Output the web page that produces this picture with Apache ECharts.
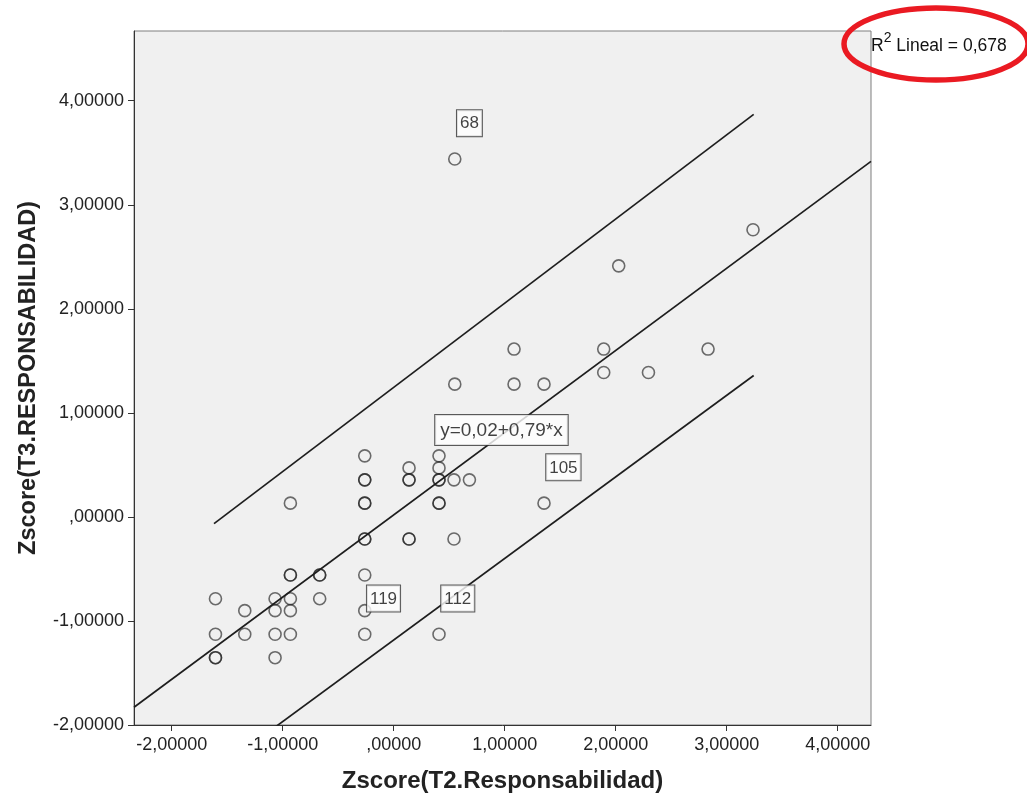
<!DOCTYPE html>
<html>
<head>
<meta charset="utf-8">
<script src="https://cdn.jsdelivr.net/npm/echarts@6/dist/echarts.min.js"></script>
<style>
  html, body { margin: 0; padding: 0; background: #ffffff; }
  #chart { width: 1027px; height: 800px; }
</style>
</head>
<body>
<div id="chart"></div>
<script>
// ---- data ----
const xVals = [
  -0.931, -0.931, -0.667, -0.667,
  -1.606, -1.069, -0.931, -0.667,
  -1.342, -1.069, -0.931,
  -1.606, -1.342, -1.069, -0.931,
  -1.606, -1.606, -1.069,
  -0.931,
  -0.261, 0.138, 0.408, 0.408,
  -0.261, -0.261, 0.138, 0.138, 0.408, 0.408, 0.543, 0.682,
  -0.261, -0.261, 0.408, 0.408,
  -0.261, -0.261, 0.138, 0.138, 0.543,
  -0.261, -0.261, -0.261, 0.408,
  1.084, 1.892, 1.892, 2.295, 1.084, 1.354, 0.550, 1.354, 0.550, 3.237, 2.027, 2.832
];
const yVals = [
  -0.558, -0.558, -0.558, -0.558,
  -0.786, -0.786, -0.786, -0.786,
  -0.901, -0.901, -0.901,
  -1.128, -1.128, -1.128, -1.128,
  -1.353, -1.353, -1.353,
  0.132,
  0.587, 0.471, 0.587, 0.471,
  0.356, 0.356, 0.356, 0.356, 0.356, 0.356, 0.356, 0.356,
  0.132, 0.132, 0.132, 0.132,
  -0.212, -0.212, -0.212, -0.212, -0.212,
  -0.558, -0.901, -1.128, -1.128,
  1.613, 1.613, 1.388, 1.388, 1.276, 1.276, 1.276, 0.132, 3.440, 2.760, 2.413, 1.613
];
// case labels: index into the point arrays -> text
const labelIdx  = [52, 51, 42, 43];
const labelText = ['68', '105', '119', '112'];

// fitted line and individual prediction bounds (endpoints)
const fitLine   = [[-2.34, -1.829], [4.30, 3.417]];
const upperLine = [[-1.619, -0.064], [3.243, 3.868]];
const lowerLine = [[-1.619, -2.452], [3.243, 1.359]];

const equationText = 'y=0,02+0,79*x';
const equationAt   = [0.378, 0.975];
const r2Value = '0,678';

const tickValues = [-2, -1, 0, 1, 2, 3, 4];
const tickLabels = ['-2,00000', '-1,00000', ',00000', '1,00000', '2,00000', '3,00000', '4,00000'];

const xTitle = 'Zscore(T2.Responsabilidad)';
const yTitle = 'Zscore(T3.RESPONSABILIDAD)';

// ---- build ----
const FONT = "'Liberation Sans', Arial, sans-serif";
const fmt = v => {
  const i = tickValues.findIndex(t => Math.abs(t - v) < 1e-9);
  return i >= 0 ? tickLabels[i] : '';
};

const points = xVals.map((x, i) => {
  const p = { value: [x, yVals[i]] };
  const k = labelIdx.indexOf(i);
  if (k >= 0) {
    p.label = {
      show: true,
      formatter: labelText[k],
      position: [9, -42],
      fontFamily: FONT,
      fontSize: 17,
      color: '#111',
      backgroundColor: '#ffffff',
      borderColor: '#333',
      borderWidth: 1,
      padding: [5, 3, 4, 3]
    };
  }
  return p;
});

const lineStyle = { color: '#1e1e1e', width: 1.7 };

const axisCommon = {
  type: 'value',
  axisLine: { show: true, onZero: false, lineStyle: { color: '#333', width: 1 } },
  axisTick: { show: true, length: 6, inside: false, customValues: tickValues, lineStyle: { color: '#333' } },
  axisLabel: { customValues: tickValues, formatter: fmt, fontFamily: FONT, fontSize: 18, color: '#222', margin: 11 },
  splitLine: { show: false },
  nameLocation: 'middle',
  nameTextStyle: { fontFamily: FONT, fontSize: 24, fontWeight: 'bold', color: '#222' }
};

const chart = echarts.init(document.getElementById('chart'), null, { renderer: 'canvas' });
chart.setOption({
  animation: false,
  backgroundColor: '#ffffff',
  grid: {
    left: 134, right: 156, top: 31, bottom: 75,
    show: true, backgroundColor: '#f0f0f0', borderColor: '#7f7f7f', borderWidth: 1
  },
  xAxis: Object.assign({}, axisCommon, {
    min: -2.34, max: 4.30,
    name: xTitle, nameGap: 44
  }),
  yAxis: Object.assign({}, axisCommon, {
    min: -2, max: 4.67,
    name: yTitle, nameGap: 93,
    nameTextStyle: Object.assign({}, axisCommon.nameTextStyle, { fontSize: 23.5 }),
    axisLabel: Object.assign({}, axisCommon.axisLabel, { margin: 10 })
  }),
  graphic: [
    {
      type: 'text', left: 871, top: 31, z: 10,
      style: {
        text: '{a|R}{s|2}{a| Lineal = ' + r2Value + '}',
        rich: {
          a: { fontFamily: FONT, fontSize: 17.5, fill: '#111', color: '#111', lineHeight: 24, verticalAlign: 'bottom' },
          s: { fontFamily: FONT, fontSize: 14, fill: '#111', color: '#111', lineHeight: 24, verticalAlign: 'top' }
        }
      }
    },
    {
      type: 'ellipse', z: 11,
      shape: { cx: 936, cy: 44, rx: 92, ry: 36 },
      style: { fill: 'none', stroke: '#ea1a22', lineWidth: 5.5 }
    }
  ],
  series: [
    { type: 'line', data: fitLine, showSymbol: false, lineStyle: lineStyle, silent: true, z: 3 },
    { type: 'line', data: upperLine, showSymbol: false, lineStyle: lineStyle, silent: true, z: 3 },
    { type: 'line', data: lowerLine, showSymbol: false, lineStyle: lineStyle, silent: true, z: 3 },
    {
      type: 'scatter', data: points, symbol: 'circle', symbolSize: 12, z: 4,
      itemStyle: { color: 'rgba(0,0,0,0)', borderColor: 'rgba(30,30,30,0.8)', borderWidth: 1.6 },
      emphasis: { disabled: true }
    },
    {
      type: 'scatter', data: [equationAt], symbolSize: 1, z: 6, silent: true,
      itemStyle: { color: 'rgba(0,0,0,0)' },
      label: {
        show: true, formatter: equationText, position: [0, 0],
        fontFamily: FONT, fontSize: 19, color: '#111',
        backgroundColor: '#ffffff', borderColor: '#333', borderWidth: 1,
        padding: [6, 5, 5, 5]
      }
    }
  ]
});
</script>
</body>
</html>
